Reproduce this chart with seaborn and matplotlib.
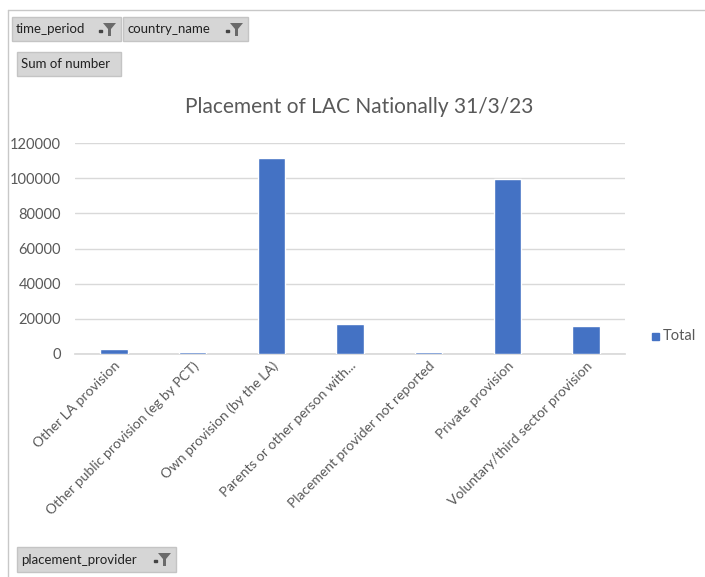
import matplotlib
matplotlib.use("Agg")
import matplotlib.pyplot as plt
from matplotlib.patches import Polygon, Rectangle
import seaborn as sns
import pandas as pd

# Data
providers = [
    "Other LA provision",
    "Other public provision (eg by PCT)",
    "Own provision (by the LA)",
    "Parents or other person with...",
    "Placement provider not reported",
    "Private provision",
    "Voluntary/third sector provision",
]
totals = [2800, 1100, 111500, 17000, 1400, 99500, 15700]
y_ticks = [0, 20000, 40000, 60000, 80000, 100000, 120000]

df = pd.DataFrame({"placement_provider": providers, "Total": totals})

sns.set_theme(style="white")
plt.rcParams["font.family"] = ["Lato", "DejaVu Sans"]

W, H = 705, 577
fig = plt.figure(figsize=(W / 100, H / 100), dpi=100)
ax = fig.add_axes([0.106, 0.3865, 0.781, 0.3655])

bar_color = "#4472C4"
sns.barplot(data=df, x="placement_provider", y="Total", color=bar_color,
            width=0.35, ax=ax, saturation=1)
for p in ax.patches:
    p.set_zorder(3)

ax.set_ylim(0, 120000)
ax.set_yticks(y_ticks)
ax.set_yticklabels([str(v) for v in y_ticks], fontsize=10.5, color="#595959")
ax.yaxis.grid(True, color="#d9d9d9", linewidth=1)
ax.set_axisbelow(True)
ax.tick_params(axis="y", length=0, pad=10)
ax.tick_params(axis="x", length=0, pad=4)
ax.set_xticks(range(len(providers)))
ax.set_xticklabels(providers, rotation=45, ha="right", rotation_mode="anchor",
                   fontsize=10, color="#595959")
ax.set_xlabel("")
ax.set_ylabel("")
for s in ["top", "right", "left"]:
    ax.spines[s].set_visible(False)
ax.spines["bottom"].set_color("#d9d9d9")
ax.spines["bottom"].set_zorder(1)

fig.text(0.51, 0.815, "Placement of LAC Nationally 31/3/23", ha="center", va="center",
         fontsize=15, color="#595959")

# legend
fig.patches.append(Rectangle((652 / W, 1 - 340 / H), 7 / W, 7 / H,
                             transform=fig.transFigure, color=bar_color))
fig.text(663 / W, 1 - 336 / H, "Total", ha="left", va="center",
         fontsize=10.5, color="#595959")


def px(x, y):
    return (x / W, 1 - y / H)


# pivot field buttons
def button(x0, y0, x1, y1, label, has_filter):
    fig.patches.append(Rectangle(px(x0, y1), (x1 - x0) / W, (y1 - y0) / H,
                                 transform=fig.transFigure, facecolor="#d6d6d6",
                                 edgecolor="#c4c4c4", linewidth=1))
    yc = 1 - (y0 + y1) / 2 / H
    fig.text((x0 + 4) / W, yc, label, fontsize=9.5, va="center", ha="left", color="#222222")
    if has_filter:
        # small drop marker and funnel icon
        fig.patches.append(Rectangle(px(x1 - 22, y0 + 15), 3 / W, 2 / H,
                                     transform=fig.transFigure, color="#444444"))
        funnel = [px(x1 - 18, y0 + 6), px(x1 - 5, y0 + 6), px(x1 - 10, y0 + 12),
                  px(x1 - 10, y0 + 19), px(x1 - 13, y0 + 19), px(x1 - 13, y0 + 12)]
        fig.patches.append(Polygon(funnel, closed=True, transform=fig.transFigure,
                                   facecolor="#6a6a6a", edgecolor="none"))


button(12, 17, 121, 41, "time_period", True)
button(123, 17, 248, 41, "country_name", True)
button(17, 52, 121, 76, "Sum of number", False)
button(17, 547, 176, 572, "placement_provider", True)

# sheet frame lines
fig.add_artist(plt.Line2D([8 / W, 8 / W], [0, 1 - 10 / H],
                          transform=fig.transFigure, color="#c8c8c8", linewidth=1))
fig.add_artist(plt.Line2D([8 / W, 1], [1 - 10 / H, 1 - 10 / H],
                          transform=fig.transFigure, color="#c8c8c8", linewidth=1))

fig.savefig("out.png", dpi=100)
